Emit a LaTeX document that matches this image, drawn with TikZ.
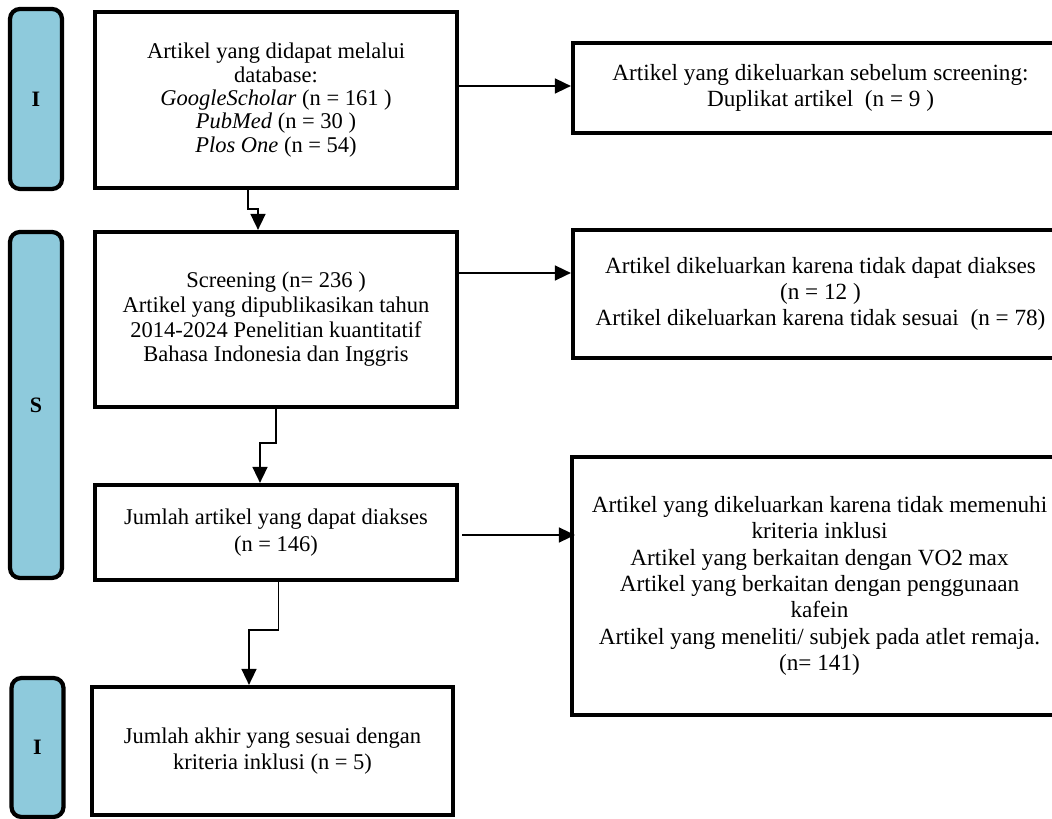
\documentclass[tikz,border=0pt]{standalone}
\usepackage{fontspec}
\setmainfont{Liberation Serif}
\usepackage{xcolor}
\usepackage{tikz}
\usetikzlibrary{arrows.meta,positioning}

\definecolor{phase}{RGB}{142,202,220}

\begin{document}
\begin{tikzpicture}[
		box/.style={
			rectangle,
			draw,
			line width=2.2pt,
			outer sep=0pt,
			align=center,
			font=\fontsize{12.8}{15}\selectfont,
			minimum width=7.24cm
		},
		exbox/.style={
			box,
			font=\fontsize{13.2}{15}\selectfont,
			minimum width=9.9cm
		},
		phasebar/.style={
			rectangle,
			draw,
			fill=phase,
			rounded corners=0.2cm,
			line width=2.4pt,
			minimum width=1.04cm,
			font=\fontsize{12.5}{14}\selectfont\bfseries
		},
		arrow/.style={-{Triangle[length=0.32cm,width=0.3cm]}, line width=0.9pt, shorten >=1.2pt}
		]
		\useasboundingbox (0,0) rectangle (21.04,-16.38);
		
		% phase bars
		\node[phasebar, minimum height=3.6cm] (bar1) at (0.72,-1.98) {I};
		\node[phasebar, minimum height=6.92cm] (bar2) at (0.72,-8.1) {S};
		\node[phasebar, minimum height=2.78cm] (bar3) at (0.75,-14.95) {I};
		
		% main column
		\node[box, minimum height=3.52cm, font=\fontsize{12.8}{13.3}\selectfont] (db) at (5.52,-2.0) {Artikel yang didapat melalui\\database:\\\textit{GoogleScholar} (n = 161 )\\\textit{PubMed} (n = 30 )\\\textit{Plos One} (n = 54)};
		\node[box, minimum height=3.5cm, font=\fontsize{12.8}{14}\selectfont, below=0.88cm of db] (scr) {Screening (n= 236 )\\Artikel yang dipublikasikan tahun\\2014-2024 Penelitian kuantitatif\\Bahasa Indonesia dan Inggris};
		\node[box, minimum height=1.9cm, below=1.56cm of scr] (acc) {Jumlah artikel yang dapat diakses\\(n = 146)};
		\node[box, minimum height=2.56cm, minimum width=7.22cm, below=2.14cm of acc, xshift=-0.07cm] (fin) {Jumlah akhir yang sesuai dengan\\kriteria inklusi (n = 5)};
		
		% excluded
		\node[exbox, minimum height=1.8cm, right=2.32cm of db, yshift=0.24cm] (ex1) {Artikel yang dikeluarkan sebelum screening:\\Duplikat artikel\ \ (n = 9 )};
		\node[exbox, minimum height=2.56cm, right=2.32cm of scr, yshift=0.51cm] (ex2) {Artikel dikeluarkan karena tidak dapat diakses\\(n = 12 )\\Artikel dikeluarkan karena tidak sesuai\ \ (n = 78)};
		\node[exbox, minimum height=5.16cm, right=2.3cm of acc, yshift=-1.07cm] (ex3) {Artikel yang dikeluarkan karena tidak memenuhi\\kriteria inklusi\\Artikel yang berkaitan dengan VO2 max\\Artikel yang berkaitan dengan penggunaan\\kafein\\Artikel yang meneliti/ subjek pada atlet remaja.\\(n= 141)};
		
		\draw[arrow] ([xshift=-0.56cm]db.south) -- ++(0,-0.42) -| ([xshift=-0.36cm]scr.north);
		\draw[arrow] (scr.south) -- ++(0,-0.72) -| ([xshift=-0.32cm]acc.north);
		\draw[arrow] ([xshift=0.05cm]acc.south) -- ++(0,-1.0) -| ([xshift=-0.47cm]fin.north);
		
		\draw[arrow] ([yshift=0.28cm]db.east) -- ([yshift=0.28cm]db.east -| ex1.west);
		\draw[arrow] ([yshift=0.93cm]scr.east) -- ([yshift=0.93cm]scr.east -| ex2.west);
		\draw[arrow] ([xshift=0.1cm,yshift=-0.05cm]acc.east) -- ([xshift=0.1cm,yshift=-0.05cm]acc.east -| ex3.west);
	\end{tikzpicture}
\end{document}
